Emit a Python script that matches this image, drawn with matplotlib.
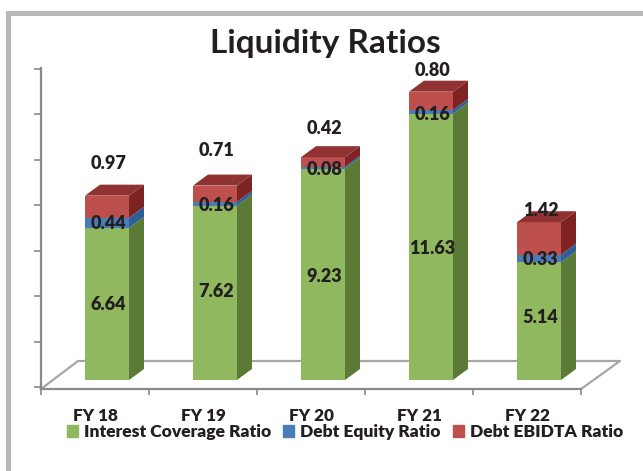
import matplotlib.pyplot as plt
from matplotlib.patches import Patch, Rectangle

years = ["FY 18", "FY 19", "FY 20", "FY 21", "FY 22"]
interest_coverage = [6.64, 7.62, 9.23, 11.63, 5.14]
debt_equity = [0.44, 0.16, 0.08, 0.16, 0.33]
debt_ebidta = [0.97, 0.71, 0.42, 0.80, 1.42]

# hand placed labels: px above the stack top, and px nudges for the inner labels
top_label_gap = [32, 35, 29, 21, 12]
green_label_nudge = [-1, 1, -2, -2, 4]
blue_label_nudge = [-1, -2, -2, -3, -1]

W, H = 643, 471
fig = plt.figure(figsize=(W / 100, H / 100), dpi=100, facecolor="white")
plt.rcParams["font.family"] = ["Lato", "DejaVu Sans"]
TEXT = "#231f20"

# grey picture frame, runs off the right and bottom of the image
fig.add_artist(Rectangle((7.5 / W, -0.1), 1, 1 - 12.5 / H + 0.1, transform=fig.transFigure,
                         fill=False, edgecolor="#b8b8b8", linewidth=3.6))

ax = fig.add_axes([41 / W, 1 - 389 / H, 540 / W, 321 / H])
px_per_unit = 22.9
floor_drop = 9 / px_per_unit
ax.set_xlim(0, 5)
ax.set_ylim(-floor_drop, 312 / px_per_unit)
ax.patch.set_alpha(0)

for s in ["top", "right"]:
    ax.spines[s].set_visible(False)
for s in ["left", "bottom"]:
    ax.spines[s].set_color("#8a8a8e")
    ax.spines[s].set_linewidth(1.6)

# unlabelled ticks, 45.5 px apart starting just above the front floor edge
ax.set_yticks([(-7 + 45.5 * k) / px_per_unit for k in range(8)])
ax.set_yticklabels([])
ax.tick_params(axis="y", length=5, width=1.2, color="#8a8a8e")
ax.set_xticks(range(6))
ax.set_xticklabels([])
ax.tick_params(axis="x", which="major", length=4, width=1.2, color="#8a8a8e")
ax.set_xticks([i + 0.5 for i in range(5)], minor=True)
ax.set_xticklabels(years, minor=True, fontsize=12.3, fontweight=800, color=TEXT)
ax.tick_params(axis="x", which="minor", length=0, pad=14)

# 3d look: depth of the bars and the floor, in data units
dx = 15 / 108
dy = 11 / px_per_unit
bar_w = 44 / 108
bar_left = 44 / 108

floor_x = [0, 37 / 108, 579 / 108, 5]
floor_y = [-floor_drop, 19 / px_per_unit, 19 / px_per_unit, -floor_drop]
ax.plot(floor_x, floor_y, color="#a6a6a6", linewidth=1.6, clip_on=False, zorder=1)

series = [
    (interest_coverage, "#8fb85f", "#5a7a35"),
    (debt_equity, "#4a7db8", "#2f5f98"),
    (debt_ebidta, "#bd4f4c", "#7f2322"),
]

bottoms = [0.0] * 5
for values, front, side in series:
    positions = [i + bar_left + bar_w / 2 for i in range(5)]
    ax.bar(positions, values, bar_w, bottom=bottoms, color=front, zorder=3)
    for i, v in enumerate(values):
        x1 = i + bar_left + bar_w
        b = bottoms[i]
        ax.fill([x1, x1 + dx, x1 + dx, x1], [b, b + dy, b + v + dy, b + v],
                color=side, linewidth=0, zorder=3)
    bottoms = [b + v for b, v in zip(bottoms, values)]

for i, total in enumerate(bottoms):
    x0 = i + bar_left
    ax.fill([x0, x0 + dx, x0 + bar_w + dx, x0 + bar_w], [total, total + dy, total + dy, total],
            color="#913232", linewidth=0, zorder=3)

label_style = dict(fontsize=13, fontweight=800, color=TEXT, ha="center", va="center", zorder=5,
                   textcoords="offset points")
for i in range(5):
    cx = i + bar_left + bar_w / 2 + 1.5 / 108
    g, b, r = interest_coverage[i], debt_equity[i], debt_ebidta[i]
    ax.annotate(f"{g:.2f}", (cx, g / 2), xytext=(0, green_label_nudge[i] * 0.72), **label_style)
    ax.annotate(f"{b:.2f}", (cx, g + b / 2), xytext=(0, blue_label_nudge[i] * 0.72), **label_style)
    ax.annotate(f"{r:.2f}", (cx, g + b + r), xytext=(0, top_label_gap[i] * 0.72), **label_style)

fig.text(325.5 / W, 1 - 44 / H, "Liquidity Ratios", fontsize=24, fontweight="bold",
         color=TEXT, ha="center", va="center")

handles = [Patch(color="#8fb85f"), Patch(color="#4a7db8"), Patch(color="#bd4f4c")]
fig.legend(handles, ["Interest Coverage Ratio", "Debt Equity Ratio", "Debt EBIDTA Ratio"],
           loc="center", bbox_to_anchor=(345 / W, 1 - 432 / H), ncols=3, frameon=False,
           prop=dict(size=12.6, weight=800), labelcolor=TEXT, handlelength=0.63, handleheight=0.63,
           handletextpad=0.35, columnspacing=0.7)

fig.savefig("out.png", dpi=100)
